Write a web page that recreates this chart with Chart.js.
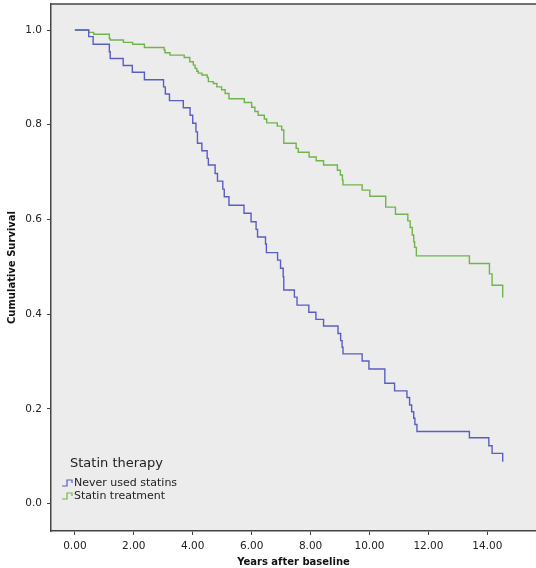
<!DOCTYPE html>
<html>
<head>
<meta charset="utf-8">
<script src="https://cdn.jsdelivr.net/npm/chart.js@4/dist/chart.umd.min.js"></script>
<style>
  html, body { margin: 0; padding: 0; background: #fff; }
  #wrap { width: 536px; height: 568px; }
</style>
</head>
<body>
<div id="wrap"><canvas id="kmChart" width="536" height="568"></canvas></div>
<script>
// Kaplan-Meier estimates (years, cumulative survival)
const neverTimes = [0, 0.47, 0.62, 1.17, 1.20, 1.64, 1.95, 2.36, 3.01, 3.07, 3.21, 3.68, 3.91, 4.00, 4.11,
  4.16, 4.31, 4.49, 4.53, 4.76, 4.84, 5.02, 5.07, 5.23, 5.74, 5.98, 6.15, 6.20, 6.47, 6.50,
  6.88, 6.98, 7.07, 7.09, 7.45, 7.54, 7.94, 8.18, 8.44, 8.93, 9.02, 9.07, 9.10, 9.75, 9.98,
  10.52, 10.85, 11.27, 11.36, 11.43, 11.50, 11.54, 11.61, 13.39, 14.05, 14.16, 14.52];
const neverSurv = [1.000, 0.986, 0.970, 0.954, 0.940, 0.925, 0.911, 0.895, 0.880, 0.865, 0.851, 0.836, 0.820, 0.803, 0.785,
  0.761, 0.745, 0.729, 0.715, 0.697, 0.681, 0.664, 0.648, 0.630, 0.613, 0.595, 0.579, 0.563, 0.548, 0.530,
  0.514, 0.497, 0.479, 0.451, 0.436, 0.419, 0.404, 0.389, 0.375, 0.359, 0.344, 0.330, 0.316, 0.301, 0.284,
  0.254, 0.238, 0.224, 0.208, 0.194, 0.180, 0.167, 0.152, 0.139, 0.122, 0.106, 0.088];

const statinTimes = [0, 0.47, 0.64, 1.17, 1.20, 1.65, 1.96, 2.36, 3.03, 3.06, 3.23, 3.71, 3.90, 4.02, 4.08,
  4.14, 4.19, 4.31, 4.49, 4.53, 4.70, 4.82, 4.98, 5.10, 5.23, 5.75, 6.00, 6.11, 6.22, 6.43,
  6.51, 6.87, 7.02, 7.09, 7.51, 7.58, 7.95, 8.19, 8.44, 8.91, 9.01, 9.08, 9.10, 9.75, 10.01,
  10.55, 10.88, 11.30, 11.38, 11.45, 11.50, 11.53, 11.59, 13.39, 14.07, 14.16, 14.52];
const statinSurv = [1.000, 0.995, 0.991, 0.982, 0.979, 0.974, 0.970, 0.963, 0.958, 0.952, 0.947, 0.942, 0.933, 0.926, 0.919,
  0.913, 0.909, 0.905, 0.900, 0.891, 0.887, 0.880, 0.874, 0.866, 0.855, 0.847, 0.837, 0.828, 0.820, 0.812,
  0.804, 0.797, 0.789, 0.761, 0.750, 0.742, 0.732, 0.724, 0.715, 0.704, 0.694, 0.683, 0.673, 0.662, 0.649,
  0.626, 0.611, 0.597, 0.583, 0.567, 0.553, 0.541, 0.523, 0.507, 0.485, 0.461, 0.435];

const groupLabels = ['Never used statins', 'Statin treatment'];
const groupColors = ['#5a5ec4', '#70b54b'];
const xTicks = [0, 2, 4, 6, 8, 10, 12, 14];
const yTicks = [0, 0.2, 0.4, 0.6, 0.8, 1.0];

const toPoints = (times, surv) => times.map((t, i) => ({ x: t, y: surv[i] }));

// grey plot panel + top frame line
const panel = {
  id: 'panel',
  beforeDraw(chart) {
    const { ctx, chartArea: a } = chart;
    ctx.save();
    ctx.fillStyle = '#ececec';
    ctx.fillRect(a.left, a.top, a.right - a.left, a.bottom - a.top);
    ctx.strokeStyle = '#444';
    ctx.lineWidth = 1.5;
    ctx.beginPath();
    ctx.moveTo(a.left, a.top);
    ctx.lineTo(a.right, a.top);
    ctx.stroke();
    ctx.restore();
  }
};

// SPSS style legend in the lower left corner of the panel
const kmLegend = {
  id: 'kmLegend',
  afterDatasetsDraw(chart) {
    const ctx = chart.ctx;
    ctx.save();
    ctx.fillStyle = '#222';
    ctx.textBaseline = 'middle';
    ctx.font = '13px "DejaVu Sans"';
    ctx.fillText('Statin therapy', 70, 464);
    ctx.font = '11px "DejaVu Sans"';
    chart.data.datasets.forEach((ds, i) => {
      const y = 483 + i * 13;
      ctx.strokeStyle = ds.borderColor;
      ctx.lineWidth = 1.2;
      ctx.beginPath();
      ctx.moveTo(62, y + 3);
      ctx.lineTo(67, y + 3);
      ctx.lineTo(67, y - 3);
      ctx.lineTo(72, y - 3);
      ctx.lineTo(72, y);
      ctx.stroke();
      ctx.fillStyle = '#222';
      ctx.fillText(ds.label, 74, y);
    });
    ctx.restore();
  }
};

new Chart(document.getElementById('kmChart'), {
  type: 'line',
  data: {
    datasets: [
      { label: groupLabels[0], data: toPoints(neverTimes, neverSurv), borderColor: groupColors[0] },
      { label: groupLabels[1], data: toPoints(statinTimes, statinSurv), borderColor: groupColors[1] }
    ].map(ds => Object.assign(ds, { stepped: 'before', pointRadius: 0, borderWidth: 1.4, fill: false }))
  },
  options: {
    responsive: false,
    animation: false,
    layout: { padding: { top: 4, right: 0, left: 0, bottom: 0 } },
    plugins: { legend: { display: false }, tooltip: { enabled: false } },
    scales: {
      x: {
        type: 'linear',
        min: -0.81,
        max: 15.65,
        afterBuildTicks: axis => { axis.ticks = xTicks.map(v => ({ value: v })); },
        afterFit: axis => { axis.height = 37; axis.paddingLeft = 0; axis.paddingRight = 0; },
        ticks: {
          callback: v => v.toFixed(2),
          color: '#222',
          font: { family: 'DejaVu Sans', size: 10.5 },
          padding: 5,
          maxRotation: 0
        },
        grid: { drawOnChartArea: false, drawTicks: true, tickLength: 4, color: '#444' },
        border: { display: true, color: '#444', width: 1.5 },
        title: {
          display: true,
          text: 'Years after baseline',
          color: '#111',
          font: { family: 'DejaVu Sans', size: 10, weight: 'bold' },
          padding: { top: 0, bottom: 0 }
        }
      },
      y: {
        min: -0.058,
        max: 1.055,
        afterBuildTicks: axis => { axis.ticks = yTicks.map(v => ({ value: v })); },
        afterFit: axis => { axis.width = 51; axis.paddingTop = 0; axis.paddingBottom = 0; },
        ticks: {
          callback: v => v.toFixed(1),
          color: '#222',
          font: { family: 'DejaVu Sans', size: 10.5 },
          padding: 5
        },
        grid: { drawOnChartArea: false, drawTicks: true, tickLength: 4, color: '#444' },
        border: { display: true, color: '#444', width: 1.5 },
        title: {
          display: true,
          text: 'Cumulative Survival',
          color: '#111',
          font: { family: 'DejaVu Sans', size: 10, weight: 'bold' },
          padding: { top: 6, bottom: 0 }
        }
      }
    }
  },
  plugins: [panel, kmLegend]
});
</script>
</body>
</html>
